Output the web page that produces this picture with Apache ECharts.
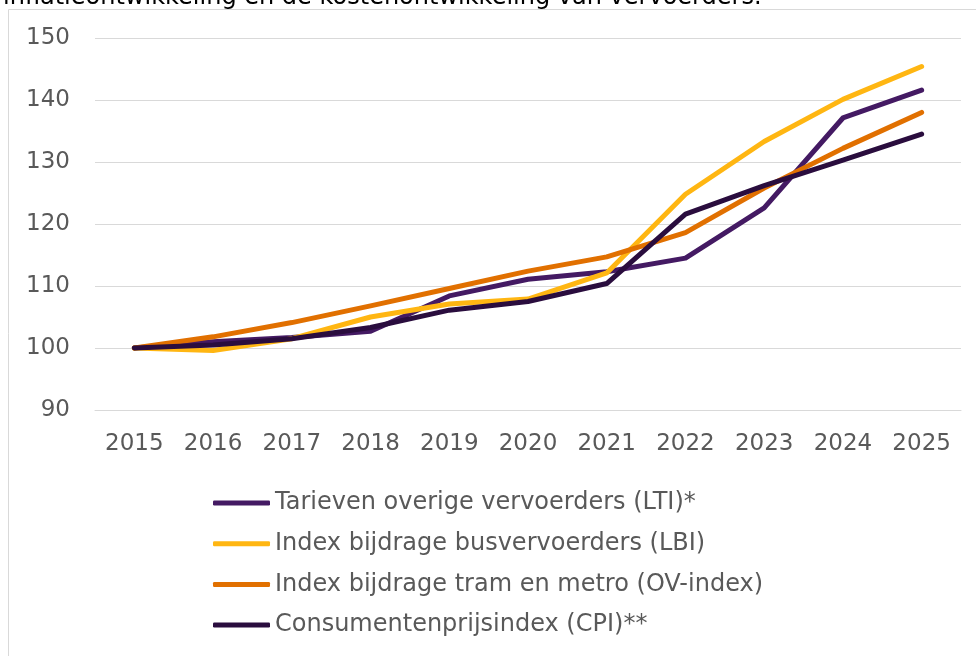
<!DOCTYPE html>
<html>
<head>
<meta charset="utf-8">
<script src="https://cdn.jsdelivr.net/npm/echarts@6/dist/echarts.min.js"></script>
<style>
  html, body { margin: 0; padding: 0; background: #fff; }
  #main { width: 976px; height: 656px; }
</style>
</head>
<body>
<div id="main"></div>
<script>
// jaren en indexreeksen (2015 = 100)
var years = ['2015', '2016', '2017', '2018', '2019', '2020', '2021', '2022', '2023', '2024', '2025'];
var lti = [100, 101.0, 101.7, 102.7, 108.4, 111.1, 112.3, 114.5, 122.6, 137.1, 141.6];
var lbi = [100, 99.6, 101.5, 105.0, 107.1, 107.9, 112.1, 124.8, 133.3, 140.1, 145.4];
var ovIndex = [100, 101.8, 104.1, 106.8, 109.6, 112.4, 114.7, 118.6, 125.8, 132.2, 138.0];
var cpi = [100, 100.5, 101.5, 103.3, 106.1, 107.5, 110.4, 121.6, 126.2, 130.3, 134.5];

var names = [
  'Tarieven overige vervoerders (LTI)*',
  'Index bijdrage busvervoerders (LBI)',
  'Index bijdrage tram en metro (OV-index)',
  'Consumentenprijsindex (CPI)**'
];
var colors = ['#441a63', '#ffb612', '#e17000', '#2a0d3e'];
var values = [lti, lbi, ovIndex, cpi];

var font = 'DejaVu Sans, Verdana, sans-serif';

var series = values.map(function (v, i) {
  return {
    name: names[i],
    type: 'line',
    data: v,
    showSymbol: false,
    symbol: 'none',
    lineStyle: { width: 5, color: colors[i], cap: 'round', join: 'round' },
    itemStyle: { color: colors[i] }
  };
});

var chart = echarts.init(document.getElementById('main'));
chart.setOption({
  animation: false,
  title: {
    text: 'inflatieontwikkeling en de kostenontwikkeling van vervoerders.',
    left: -2,
    top: -19,
    textStyle: { fontFamily: font, fontSize: 24, fontWeight: 'normal', color: '#000' }
  },
  graphic: [{
    type: 'rect',
    shape: { x: 8.5, y: 9.5, width: 1200, height: 800 },
    style: { fill: 'none', stroke: '#d9d9d9', lineWidth: 1 },
    silent: true
  }],
  grid: { left: 95, right: 15, top: 38, bottom: 246 },
  legend: {
    orient: 'vertical',
    left: 208,
    top: 486,
    itemWidth: 57,
    itemHeight: 5,
    itemGap: 16.7,
    icon: 'roundRect',
    data: names,
    textStyle: { fontFamily: font, fontSize: 24, color: '#595959' }
  },
  xAxis: {
    type: 'category',
    data: years,
    boundaryGap: true,
    axisLine: { lineStyle: { color: '#d9d9d9', width: 1 } },
    axisTick: { show: false },
    axisLabel: { color: '#595959', fontFamily: font, fontSize: 23, margin: 23 }
  },
  yAxis: {
    type: 'value',
    min: 90,
    max: 150,
    interval: 10,
    axisLine: { show: false },
    axisTick: { show: false },
    splitLine: { lineStyle: { color: '#d9d9d9', width: 1 } },
    axisLabel: { color: '#595959', fontFamily: font, fontSize: 23, margin: 25 }
  },
  series: series
});
</script>
</body>
</html>
